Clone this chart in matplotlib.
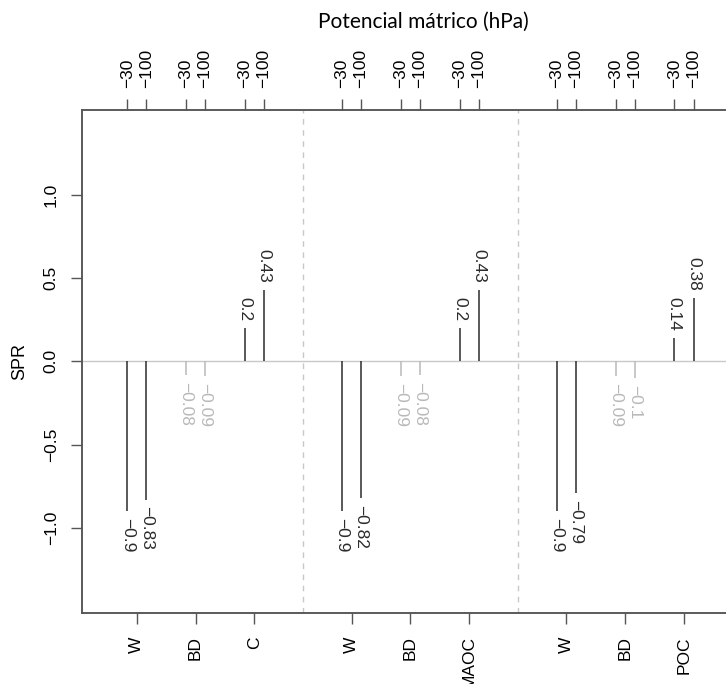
import matplotlib
matplotlib.use("Agg")
import matplotlib.pyplot as plt

plt.rcParams['font.family'] = ['Liberation Sans', 'DejaVu Sans']

# ---- data ----
groups = ["C", "MAOC", "POC"]
cats_C = ["W", "BD", "C"]
cats_MAOC = ["W", "BD", "MAOC"]
cats_POC = ["W", "BD", "POC"]
potentials = ["-30", "-100"]
spr_C_30 = [-0.9, -0.08, 0.2]
spr_C_100 = [-0.83, -0.09, 0.43]
spr_MAOC_30 = [-0.9, -0.09, 0.2]
spr_MAOC_100 = [-0.82, -0.08, 0.43]
spr_POC_30 = [-0.9, -0.09, 0.14]
spr_POC_100 = [-0.79, -0.1, 0.38]
nonsig = ["BD"]
yticks = [-1.0, -0.5, 0.0, 0.5, 1.0]
title = "Potencial mátrico (hPa)"
ylabel = "SPR"

panels = [
    (cats_C, spr_C_30, spr_C_100),
    (cats_MAOC, spr_MAOC_30, spr_MAOC_100),
    (cats_POC, spr_POC_30, spr_POC_100),
]

# ---- layout ----
group_step = 3.653
offset = 0.163
dark = "#2b2b2b"
gray = "#b9b9b9"
spine_col = "#555555"

def fmt(v):
    return f"{v:g}".replace("-", "\u2212")

fig = plt.figure(figsize=(7.26, 6.84), dpi=100)
ax = fig.add_axes([0.1134, 0.1042, 0.9036, 0.735])

xmin = -0.925
xmax = (len(panels) - 1) * group_step + 2 + 0.925
ax.set_xlim(xmin, xmax)
ax.set_ylim(-1.51, 1.51)

ax.axhline(0, color="#c8c8c8", lw=1.0, zorder=1)
for g in range(1, len(panels)):
    ax.axvline((g - 1) * group_step + 2 + (group_step - 2) / 2, color="#c8c8c8",
               lw=1.0, ls=(0, (4, 4)), zorder=1)

bottom_pos, bottom_lab, top_pos, top_lab = [], [], [], []
for g, (cats, v30, v100) in enumerate(panels):
    for i, cat in enumerate(cats):
        xc = g * group_step + i
        bottom_pos.append(xc)
        bottom_lab.append(cat)
        color = gray if cat in nonsig else dark
        for k, v in enumerate([v30[i], v100[i]]):
            x = xc + (-offset if k == 0 else offset)
            top_pos.append(x)
            top_lab.append(potentials[k].replace("-", "\u2212"))
            ax.vlines(x, 0, v, color=color, lw=1.1, zorder=2)
            ax.annotate(fmt(v), (x, v), xytext=(0, 5 if v > 0 else -5),
                        textcoords="offset points", rotation=-90,
                        ha="center", va="bottom" if v > 0 else "top",
                        color=color, fontsize=12.5)

ax.set_xticks(bottom_pos)
ax.set_xticklabels(bottom_lab, rotation=90, fontsize=12.5)
ax.set_yticks(yticks)
ax.set_yticklabels([f"{t:.1f}".replace("-", "\u2212") for t in yticks],
                   rotation=90, va="center", fontsize=12.5)
ax.tick_params(axis="x", length=8, width=1, color=spine_col, pad=9)
ax.tick_params(axis="y", length=8, width=1, color=spine_col, pad=9)

ax2 = ax.twiny()
ax2.set_xlim(ax.get_xlim())
ax2.set_xticks(top_pos)
ax2.set_xticklabels(top_lab, rotation=90, fontsize=12.5)
ax2.tick_params(axis="x", length=8, width=1, color=spine_col, pad=8)

for a in (ax, ax2):
    for s in a.spines.values():
        s.set_color(spine_col)
        s.set_linewidth(1.1)
    a.spines["right"].set_visible(False)

fig.text(423 / 726, 1 - 22 / 684, title, ha="center", va="center",
         fontsize=15, family=["Lato", "DejaVu Sans"])
fig.text(20 / 726, 1 - 361.3 / 684, ylabel, rotation=90, ha="center",
         va="center", fontsize=13)

fig.savefig("out.png", dpi=100)
